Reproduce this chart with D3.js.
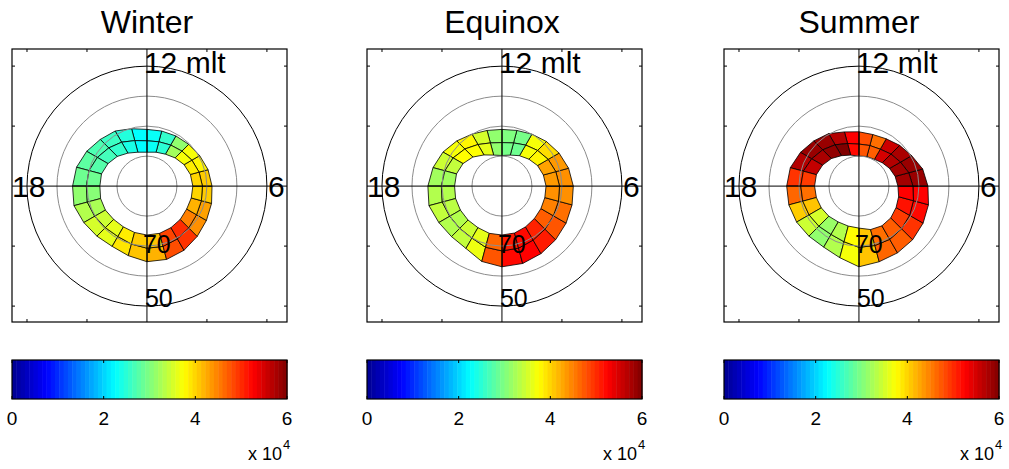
<!DOCTYPE html>
<html>
<head>
<meta charset="utf-8">
<script src="https://cdn.jsdelivr.net/npm/d3@7/dist/d3.min.js"></script>
<style>
body { margin: 0; background: #fff; }
svg { display: block; font-family: "Liberation Sans", Arial, sans-serif; }
</style>
</head>
<body>
<div id="chart"></div>
<script>
// MLT hour bins, each cell spans hour h .. h+1
const mltHours = [0, 1, 2, 3, 4, 5, 6, 7, 8, 9, 10, 11, 12, 13, 14, 15, 16, 17, 18, 19, 20, 21, 22, 23];
const seasons = ["Winter", "Equinox", "Summer"];
const grayLats = [80, 70, 60];
const edgeLat = 50;
const boxTicks = [-40, -20, 20, 40];
const cbarTicks = [0, 2, 4, 6];

// boundary latitudes at each MLT hour: equatorward, middle, poleward
const winterEq  = [64.8, 64.7, 65.3, 66.3, 67.1, 67.7, 68.3, 68.9, 69.7, 70.3, 70.7, 71.0, 71.1, 70.2, 68.8, 68.0, 66.8, 65.7, 65.2, 64.8, 65.7, 66.4, 66.8, 66.0];
const winterMid = [69.3, 69.2, 69.7, 70.3, 70.9, 71.2, 71.5, 72.0, 72.7, 73.5, 74.2, 74.7, 74.9, 74.3, 73.1, 72.0, 70.9, 70.0, 69.8, 69.4, 69.9, 70.4, 70.6, 70.0];
const winterPol = [73.7, 73.7, 74.0, 74.3, 74.7, 74.7, 74.7, 75.0, 75.7, 76.7, 77.7, 78.3, 78.7, 78.3, 77.3, 76.0, 75.0, 74.3, 74.3, 74.0, 74.0, 74.3, 74.3, 74.0];
// values (x 10^4), outer row and inner row
const winterOut = [4.2, 4.8, 4.95, 4.4, 4.3, 4.05, 4.05, 3.8, 3.7, 3.1, 2.55, 2.3, 2.25, 2.45, 2.6, 2.7, 2.8, 2.9, 3.1, 3.3, 3.5, 3.6, 3.9, 4.1];
const winterIn  = [4.1, 4.85, 5.0, 4.5, 4.2, 4.0, 4.0, 3.85, 3.7, 3.2, 2.5, 2.3, 2.25, 2.4, 2.55, 2.65, 2.75, 2.9, 3.05, 3.25, 3.45, 3.6, 3.85, 4.05];

const equinoxEq  = [63.1, 63.3, 64.0, 64.7, 65.3, 65.8, 66.2, 67.0, 68.0, 69.0, 70.0, 70.8, 71.1, 70.8, 70.0, 68.7, 67.3, 66.2, 65.3, 64.8, 65.7, 66.2, 66.0, 64.0];
const equinoxMid = [68.4, 68.6, 69.2, 69.7, 70.2, 70.5, 70.8, 71.4, 72.2, 73.2, 74.2, 75.1, 75.5, 75.1, 74.0, 72.5, 71.2, 70.3, 69.8, 69.4, 69.9, 70.1, 70.0, 68.9];
const equinoxPol = [73.7, 73.8, 74.3, 74.7, 75.0, 75.2, 75.3, 75.7, 76.3, 77.3, 78.3, 79.3, 79.8, 79.3, 78.0, 76.3, 75.0, 74.3, 74.2, 74.0, 74.0, 74.0, 74.0, 73.7];
const equinoxOut = [5.2, 5.25, 5.1, 4.75, 4.6, 4.4, 4.4, 4.35, 3.95, 3.7, 2.95, 3.0, 3.1, 3.5, 3.8, 3.7, 3.45, 3.2, 3.3, 3.4, 3.3, 3.4, 3.65, 4.75];
const equinoxIn  = [5.1, 5.2, 5.05, 4.7, 4.5, 4.4, 4.35, 4.3, 3.8, 3.7, 2.9, 2.95, 3.1, 3.6, 3.75, 3.75, 3.4, 3.2, 3.3, 3.35, 3.3, 3.45, 3.6, 4.65];

const summerEq  = [63.1, 63.9, 64.3, 64.7, 65.3, 66.0, 67.0, 68.0, 69.7, 70.8, 71.8, 72.2, 71.9, 71.3, 69.8, 68.7, 67.5, 66.3, 65.9, 65.8, 66.0, 66.4, 66.5, 65.3];
const summerMid = [69.6, 69.5, 69.5, 69.9, 70.5, 71.2, 72.0, 72.8, 74.0, 74.9, 75.8, 76.0, 76.0, 75.3, 74.1, 72.9, 71.8, 70.8, 70.6, 70.6, 70.8, 71.1, 71.4, 70.8];
const summerPol = [76.0, 75.0, 74.7, 75.0, 75.7, 76.3, 77.0, 77.5, 78.2, 79.0, 79.7, 79.8, 80.0, 79.3, 78.3, 77.0, 76.0, 75.3, 75.2, 75.3, 75.5, 75.8, 76.2, 76.2];
const summerOut = [4.1, 4.65, 4.7, 4.95, 5.2, 5.25, 5.85, 5.85, 5.75, 5.55, 4.6, 4.8, 5.25, 5.7, 5.85, 5.85, 5.7, 4.95, 4.65, 4.05, 3.45, 3.1, 3.3, 3.7];
const summerIn  = [4.1, 4.6, 4.7, 4.9, 5.15, 5.25, 5.8, 5.8, 5.7, 5.5, 4.7, 4.75, 5.2, 6.0, 5.9, 5.75, 5.6, 4.9, 4.6, 4.1, 3.5, 3.15, 3.3, 3.75];

const panels = [
    { name: seasons[0], eq: winterEq, mid: winterMid, pol: winterPol, out: winterOut, inn: winterIn },
    { name: seasons[1], eq: equinoxEq, mid: equinoxMid, pol: equinoxPol, out: equinoxOut, inn: equinoxIn },
    { name: seasons[2], eq: summerEq, mid: summerMid, pol: summerPol, out: summerOut, inn: summerIn }
];
const panelX = [0, 355, 712];

const width = 1009, height = 469;

var svg = d3.select("#chart")
    .append("svg")
    .attr("width", width)
    .attr("height", height);

// jet colormap
var jet = d3.scaleLinear()
    .domain([0, 0.75, 2.25, 3.75, 5.25, 6])
    .range(["#000090", "#0000ff", "#00ffff", "#ffff00", "#ff0000", "#800000"])
    .clamp(true);

// plot coords in degrees of colatitude
var x = d3.scaleLinear().domain([-45, 46.7]).range([12, 287]);
var y = d3.scaleLinear().domain([45.7, -45.3]).range([49, 322]);

function pt(h, lat) {
    var c = 90 - lat;
    var a = h * Math.PI / 12;
    return [x(c * Math.sin(a)), y(-c * Math.cos(a))];
}

panels.forEach(function(p, i) {
    var g = svg.append("g").attr("transform", "translate(" + panelX[i] + ",0)");

    g.append("text")
        .attr("x", x(0))
        .attr("y", 33)
        .attr("text-anchor", "middle")
        .style("font-size", "32px")
        .text(p.name);

    // cells
    var cells = [];
    mltHours.forEach(function(h, k) {
        var k2 = (k + 1) % 24;
        cells.push({ v: p.out[k], pts: [pt(h, p.eq[k]), pt(h + 1, p.eq[k2]), pt(h + 1, p.mid[k2]), pt(h, p.mid[k])] });
        cells.push({ v: p.inn[k], pts: [pt(h, p.mid[k]), pt(h + 1, p.mid[k2]), pt(h + 1, p.pol[k2]), pt(h, p.pol[k])] });
    });
    g.selectAll("polygon.cell")
        .data(cells)
        .enter()
        .append("polygon")
        .attr("class", "cell")
        .attr("points", function(d) { return d.pts.map(function(q) { return q.join(","); }).join(" "); })
        .attr("fill", function(d) { return jet(d.v); })
        .attr("stroke", "black")
        .attr("stroke-width", 0.8);

    // latitude circles
    g.selectAll("circle.lat")
        .data(grayLats)
        .enter()
        .append("circle")
        .attr("cx", x(0))
        .attr("cy", y(0))
        .attr("r", function(d) { return x(90 - d) - x(0); })
        .attr("fill", "none")
        .attr("stroke", "#8c8c8c")
        .attr("stroke-width", 1);
    g.append("circle")
        .attr("cx", x(0))
        .attr("cy", y(0))
        .attr("r", x(90 - edgeLat) - x(0))
        .attr("fill", "none")
        .attr("stroke", "black")
        .attr("stroke-width", 1);

    // cross lines
    g.append("line").attr("x1", x(0)).attr("x2", x(0)).attr("y1", 49).attr("y2", 322)
        .attr("stroke", "black").attr("stroke-width", 1);
    g.append("line").attr("x1", 12).attr("x2", 287).attr("y1", y(0)).attr("y2", y(0))
        .attr("stroke", "black").attr("stroke-width", 1);

    // box + ticks
    g.append("rect").attr("x", 12).attr("y", 49).attr("width", 275).attr("height", 273)
        .attr("fill", "none").attr("stroke", "black").attr("stroke-width", 1.2);
    boxTicks.forEach(function(t) {
        g.append("line").attr("x1", x(t)).attr("x2", x(t)).attr("y1", 49).attr("y2", 52).attr("stroke", "black");
        g.append("line").attr("x1", x(t)).attr("x2", x(t)).attr("y1", 322).attr("y2", 319).attr("stroke", "black");
        g.append("line").attr("y1", y(t)).attr("y2", y(t)).attr("x1", 12).attr("x2", 15).attr("stroke", "black");
        g.append("line").attr("y1", y(t)).attr("y2", y(t)).attr("x1", 287).attr("x2", 284).attr("stroke", "black");
    });

    // labels
    g.append("text").attr("x", x(0) - 3).attr("y", 73).style("font-size", "30px").text("12 mlt");
    g.append("text").attr("x", 12).attr("y", y(0) + 11).style("font-size", "30px").text("18");
    g.append("text").attr("x", 268).attr("y", y(0) + 11).style("font-size", "30px").text("6");
    g.append("text").attr("x", x(0) - 4).attr("y", 253).style("font-size", "25px").text(String(70));
    g.append("text").attr("x", x(0) - 2).attr("y", 307).style("font-size", "25px").text(String(50));

    // colorbar
    var cb = d3.scaleLinear().domain([0, 6]).range([12, 287]);
    var levels = d3.range(64);
    g.selectAll("rect.cb")
        .data(levels)
        .enter()
        .append("rect")
        .attr("x", function(d) { return cb(d * 6 / 64); })
        .attr("y", 360)
        .attr("width", cb(6 / 64) - cb(0) + 0.5)
        .attr("height", 39)
        .attr("fill", function(d) { return jet((d + 0.5) * 6 / 64); });
    g.append("rect").attr("x", 12).attr("y", 360).attr("width", 275).attr("height", 39)
        .attr("fill", "none").attr("stroke", "black").attr("stroke-width", 1.2);
    cbarTicks.forEach(function(t) {
        g.append("line").attr("x1", cb(t)).attr("x2", cb(t)).attr("y1", 360).attr("y2", 363).attr("stroke", "black");
        g.append("line").attr("x1", cb(t)).attr("x2", cb(t)).attr("y1", 399).attr("y2", 396).attr("stroke", "black");
        g.append("text").attr("x", cb(t)).attr("y", 425).attr("text-anchor", "middle")
            .style("font-size", "19px").text(t);
    });
    g.append("text").attr("x", 282).attr("y", 460).attr("text-anchor", "end")
        .style("font-size", "18px").text("x 10");
    g.append("text").attr("x", 283).attr("y", 449).style("font-size", "13px").text("4");
});
</script>
</body>
</html>
